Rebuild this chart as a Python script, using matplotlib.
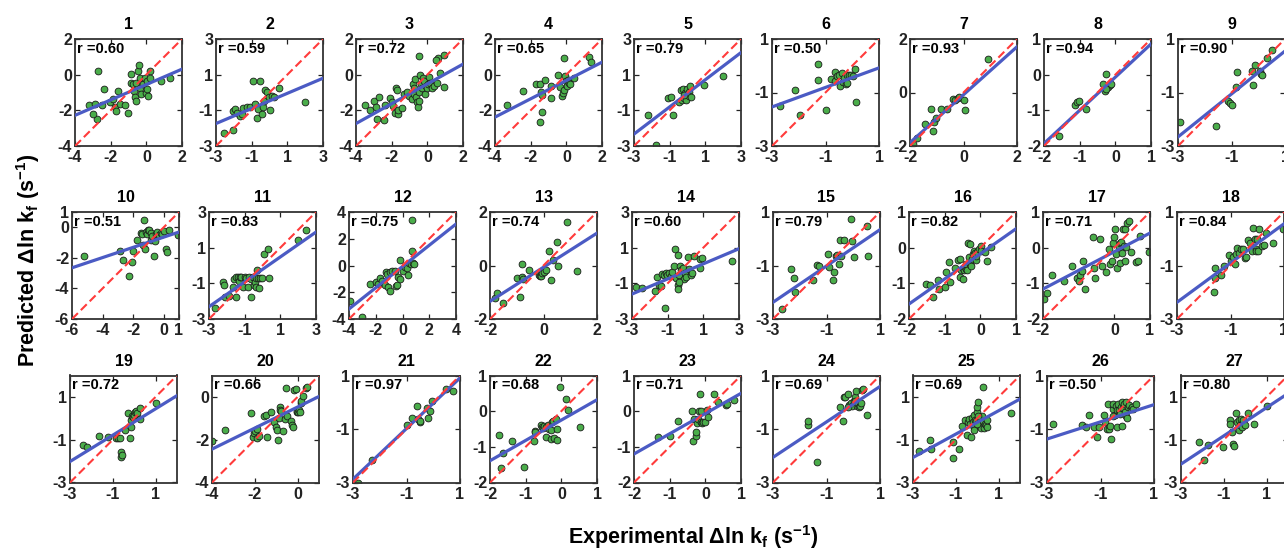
import matplotlib
matplotlib.use("Agg")
import matplotlib.pyplot as plt

plt.rcParams['font.family'] = ['Liberation Sans', 'DejaVu Sans']
plt.rcParams['font.weight'] = 'bold'
plt.rcParams['axes.unicode_minus'] = False
plt.rcParams['mathtext.fontset'] = 'custom'
plt.rcParams['mathtext.rm'] = 'Liberation Sans:bold'
plt.rcParams['mathtext.bf'] = 'Liberation Sans:bold'
plt.rcParams['mathtext.it'] = 'Liberation Sans:bold'
plt.rcParams['mathtext.default'] = 'regular'

# ---------------- data ----------------
panel_ids = list(range(1, 28))
r_values = [0.60, 0.59, 0.72, 0.65, 0.79, 0.50, 0.93, 0.94, 0.90,
            0.51, 0.83, 0.75, 0.74, 0.60, 0.79, 0.82, 0.71, 0.84,
            0.72, 0.66, 0.97, 0.68, 0.71, 0.69, 0.69, 0.50, 0.80]
axis_lo = [-4, -3, -4, -4, -3, -3, -2, -2, -3,
           -6, -3, -4, -2, -3, -3, -2, -2, -3,
           -3, -4, -3, -2, -2, -3, -3, -3, -3]
axis_hi = [2, 3, 2, 2, 3, 1, 2, 1, 1,
           1, 3, 4, 2, 3, 1, 1, 1, 1,
           2, 1, 1, 1, 1, 1, 2, 1, 2]
# fitted (regression) line: predicted value at left and right axis limits
fit_left = [-2.28, -1.74, -2.74, -2.38, -2.33, -1.54, -1.875, -1.93, -2.66,
            -2.65, -2.31, -3.25, -1.34, -1.60, -2.375, -1.58, -1.16, -2.375,
            -2.02, -2.44, -2.875, -1.39, -1.20, -2.06, -1.83, -1.375, -2.14]
fit_right = [0.31, 0.80, 0.59, 0.70, 2.24, -0.08, 1.71, 0.86, 0.55,
             -0.31, 1.875, 3.10, 1.21, 0.94, 0.34, 0.53, 0.41, 0.56,
             1.06, 0.02, 0.91, 0.32, 0.50, 0.59, 0.90, -0.09, 1.16]
tick_values = [[-4, -2, 0, 2], [-3, -1, 1, 3], [-4, -2, 0, 2], [-4, -2, 0, 2],
               [-3, -1, 1, 3], [-3, -1, 1], [-2, 0, 2], [-2, -1, 0, 1], [-3, -1, 1],
               [-6, -4, -2, 0, 1], [-3, -1, 1, 3], [-4, -2, 0, 2, 4], [-2, 0, 2],
               [-3, -1, 1, 3], [-3, -1, 1], [-2, -1, 0, 1], [-2, -1, 0, 1], [-3, -1, 1],
               [-3, -1, 1], [-4, -2, 0], [-3, -1, 1], [-2, -1, 0, 1], [-2, -1, 0, 1],
               [-3, -1, 1], [-3, -1, 1], [-3, -1, 1], [-3, -1, 1]]
xtick_override = {17: [-2, 0, 1]}

exp1 = [-2.70, -2.36, -2.75, -2.98, -3.20, -2.88, -2.51, -2.05, -1.86, -1.58, -1.77, -1.68, -1.49, -1.21, -1.03, -0.84, -0.84, -0.75, -0.71, -0.65, -0.56, -0.56, -0.47, -0.41, -0.38, -0.34, -0.28, -0.19, -0.10, -0.04, 0.03, 0.03, 0.09, 0.18, 0.22, 0.83, 1.30]
pred1 = [0.18, -0.78, -2.50, -2.22, -1.71, -1.66, -1.70, -1.56, -1.38, -0.91, -1.81, -2.03, -1.66, -1.70, -2.13, 0.03, -0.44, -0.53, -0.91, -1.28, -0.44, -1.47, 0.22, 0.56, -0.16, -0.72, -1.10, -0.53, -0.16, -1.00, -0.35, -0.81, -1.19, 0.22, -0.16, -0.38, -0.20]
exp2 = [-2.55, -2.02, -2.06, -1.93, -1.84, -1.65, -1.56, -1.50, -1.27, -1.12, -0.90, -0.52, -0.80, -0.71, -0.62, -0.43, -0.37, -0.30, -0.24, -0.15, -0.05, 0.00, 0.13, 0.23, 0.51, 2.01]
pred2 = [-2.25, -2.12, -1.03, -0.94, -1.13, -1.32, -1.22, -0.85, -0.81, -0.81, 0.65, 0.62, -0.66, -1.41, -0.94, -1.22, -0.81, -0.47, 0.13, 0.05, -0.28, -1.00, -0.19, -0.28, 0.24, -0.56]
exp3 = [-3.49, -3.21, -2.99, -2.87, -2.84, -2.69, -2.42, -2.37, -2.09, -1.99, -1.90, -1.80, -1.75, -1.71, -1.67, -1.62, -1.43, -1.30, -1.15, -1.00, -0.87, -0.81, -0.77, -0.74, -0.68, -0.62, -0.59, -0.55, -0.49, -0.44, -0.44, -0.40, -0.36, -0.30, -0.25, -0.17, -0.12, -0.06, -0.02, 0.02, 0.07, 0.17, 0.26, 0.35, 0.54, 0.58, 0.69, 0.92, 0.95, 0.50]
pred3 = [-1.70, -2.00, -1.47, -1.81, -2.50, -1.28, -2.56, -1.70, -1.32, -1.56, -1.75, -2.13, -0.72, -0.87, -2.22, -2.00, -1.85, -1.10, -0.95, -1.19, -1.38, -0.53, -0.76, -1.10, -0.25, -1.28, -1.56, -1.81, -1.47, -0.95, 1.06, -0.01, -0.50, -0.76, -0.20, -0.35, -1.10, -0.63, -0.76, -0.53, -0.12, -0.44, -0.72, -0.63, -0.44, 0.93, 0.07, -0.68, 1.12, 0.82]
exp4 = [-3.31, -2.44, -1.69, -1.47, -1.43, -1.35, -1.37, -1.47, -1.19, -0.87, -0.87, -0.44, -0.34, -0.25, -0.19, -0.15, -0.12, -0.06, 0.00, 0.03, 0.07, 0.13, 0.18, 0.41, 1.25, 1.38]
pred4 = [-1.68, -0.91, -0.53, -0.53, -0.95, -1.14, -2.10, -2.63, -0.29, -0.61, -1.30, -0.04, -0.67, -1.18, -1.05, -0.86, 0.91, -0.10, -0.38, -0.61, -0.29, -0.48, -0.53, -0.19, 0.99, 0.72]
exp5 = [-2.19, -1.76, -1.07, -0.94, -0.79, -0.45, -0.37, -0.32, -0.26, -0.19, -0.13, -0.07, -0.04, 0.06, 0.11, 0.15, 0.19, 0.94, 1.99, -0.22]
pred5 = [-1.25, -2.96, -0.33, -0.24, -1.25, -0.56, 0.14, -0.43, 0.20, -0.33, -0.05, -0.43, 0.20, 0.05, -0.18, 0.39, -0.24, 0.43, 0.90, -0.14]
exp6 = [-2.71, -2.13, -1.94, -1.29, -1.29, -1.00, -0.81, -0.66, -0.63, -0.56, -0.50, -0.44, -0.38, -0.34, -0.29, -0.25, -0.21, -0.19, -0.13, -0.04, 0.04, 0.09, 0.13]
pred6 = [-1.50, -0.90, -1.83, 0.05, -0.52, -1.67, -0.50, -0.56, -0.23, -0.40, -0.33, -0.74, -0.27, -0.61, -0.46, -0.69, -0.36, -0.65, -0.36, -0.36, -0.40, -0.14, -1.37]
exp7 = [-1.88, -1.73, -1.45, -1.20, -1.14, -1.10, -0.83, -0.62, -0.38, -0.30, -0.22, -0.15, 0.03, 0.07, 0.93, -1.02]
pred7 = [-1.94, -1.69, -1.16, -0.60, -1.44, -1.09, -0.60, -0.63, -0.25, -0.29, -0.19, -0.16, -0.29, -0.66, 1.25, -0.94]
exp8 = [-1.59, -1.12, -1.08, -1.01, -0.81, -0.34, -0.30, -0.25, -0.21, -0.15, -0.11, -0.27]
pred8 = [-1.72, -0.85, -0.78, -0.73, -0.95, -0.25, -0.45, 0.03, -0.34, -0.28, -0.25, -0.41]
exp9 = [-2.91, -1.59, -1.13, -1.06, -1.00, -0.84, -0.79, -0.25, -0.21, -0.13, 0.06, 0.09, 0.13, 0.31, 0.50]
pred9 = [-2.09, -2.25, -1.31, -1.41, -1.46, -0.81, -0.25, -0.21, -0.71, 0.04, -0.21, -0.31, -0.34, 0.29, 0.59]
exp10 = [-5.23, -2.83, -2.65, -2.28, -2.06, -2.00, -1.78, -1.47, -1.40, -1.34, -1.29, -1.25, -1.19, -1.12, -1.03, -0.97, -0.86, -0.81, -0.75, -0.64, -0.60, -0.53, -0.42, -0.31, -0.20, -0.09, 0.02, 0.13, 0.24, 0.35, 0.94]
pred10 = [-1.91, -1.56, -2.13, -3.16, -2.28, -1.52, -0.86, -0.38, -0.47, -1.19, 0.45, -1.41, -0.31, -0.47, -0.20, -0.20, -0.38, -0.82, -0.60, -1.91, -0.90, -0.47, -0.31, -0.53, -0.38, -0.47, -0.25, -1.41, -1.63, -0.20, -0.53]
exp11 = [-2.68, -2.21, -2.17, -2.12, -1.87, -1.65, -1.61, -1.50, -1.46, -1.37, -1.31, -1.27, -1.18, -1.12, -0.99, -0.90, -0.80, -0.75, -0.67, -0.62, -0.52, -0.49, -0.43, -0.37, -0.34, -0.30, -0.24, -0.19, -0.15, -0.05, 0.08, 0.32, 0.38, 2.01, 2.44]
pred11 = [-2.38, -0.94, -1.07, -1.78, -1.69, -1.18, -0.75, -1.75, -0.62, -0.62, -0.85, -0.66, -0.66, -1.22, -0.62, -0.70, -1.22, -0.66, -1.75, -0.75, -0.66, -1.07, -0.94, -0.70, -1.22, -0.25, -0.70, -1.26, -0.70, -0.70, 0.62, 0.94, -0.70, 1.41, 1.97]
exp12 = [-3.95, -3.00, -2.45, -2.00, -1.83, -1.65, -1.50, -1.33, -1.25, -1.15, -1.08, -0.95, -0.90, -0.75, -0.58, -0.50, -0.40, -0.33, -0.20, -0.15, 0.00, 0.18, 0.35, 0.43, 0.50, 0.60, 0.68, 0.68, 0.75, 0.85]
pred12 = [-2.63, -3.88, -1.38, -1.25, -1.38, -0.93, -1.13, -1.43, -0.50, -0.63, -1.58, -1.88, -0.50, -0.38, -0.38, -1.50, -1.43, -0.88, 0.43, -1.00, -0.38, -0.08, -0.18, -0.70, 0.18, 0.13, 1.08, 3.38, 0.18, 0.13]
exp13 = [-1.81, -1.72, -1.50, -0.99, -0.87, -0.81, -0.81, -0.77, -0.55, -0.18, -0.14, -0.11, -0.05, 0.01, 0.08, 0.20, 0.29, 0.36, 0.49, 0.54, 0.89, 1.25]
pred13 = [-1.21, -1.04, -1.41, -0.46, -1.16, 0.04, -0.44, -0.50, -0.16, -0.34, -0.41, -0.38, -0.29, -0.25, -0.16, 0.54, -0.54, 0.21, 0.88, 0.00, 1.63, -0.21]
exp14 = [-2.75, -2.43, -1.73, -1.62, -1.48, -1.35, -1.30, -1.20, -1.16, -1.11, -1.01, -0.92, -0.82, -0.73, -0.63, -0.59, -0.54, -0.44, -0.41, -0.41, -0.35, -0.29, -0.25, -0.16, -0.06, -0.03, 0.03, 0.13, 0.22, 0.31, 0.35, 0.50, 0.79, 0.84, 0.92, 2.59, -0.35]
pred14 = [-1.22, -1.28, -1.41, -0.66, -1.09, -1.17, -0.47, -0.53, -2.40, -0.41, -0.56, -0.41, -0.60, -0.38, 0.00, 0.94, -0.71, 0.60, -1.09, -1.32, -0.56, -0.04, -0.23, -0.15, -0.75, -0.41, -0.66, 0.47, -0.19, -0.53, -0.41, 0.52, 0.37, -0.15, 0.41, 0.28, -0.94]
exp15 = [-2.66, -2.34, -2.22, -2.19, -1.52, -1.36, -1.27, -0.96, -0.89, -0.77, -0.73, -0.64, -0.60, -0.55, -0.51, -0.45, -0.35, -0.07, -0.05, 0.03, 0.50, 0.56]
pred15 = [-2.63, -1.13, -1.48, -1.98, -1.56, -0.98, -1.03, -0.56, -1.06, -1.56, -1.23, -0.65, -0.60, -0.94, -0.03, -0.65, -0.03, 0.75, -0.10, -0.69, 0.48, -0.63]
exp16 = [-1.51, -1.40, -1.33, -1.18, -1.16, -1.00, -0.95, -0.88, -0.84, -0.72, -0.62, -0.58, -0.56, -0.53, -0.50, -0.48, -0.46, -0.43, -0.41, -0.39, -0.37, -0.34, -0.31, -0.29, -0.28, -0.25, -0.22, -0.20, -0.18, -0.15, -0.13, -0.11, -0.09, -0.03, 0.01, 0.03, 0.13, 0.19, 0.29]
pred16 = [-1.03, -1.06, -1.39, -0.90, -1.16, -1.11, -0.69, -0.41, -0.97, -0.57, -0.34, -0.31, -0.81, -0.62, -0.87, -0.57, -0.62, -0.53, -0.59, -0.45, -0.64, 0.13, -0.25, 0.11, -0.45, -0.50, -0.31, -0.19, -0.08, -0.15, -0.34, -0.22, -0.12, -0.03, 0.06, -0.08, -0.12, -0.38, 0.02]
exp17 = [-1.98, -1.89, -1.75, -1.42, -1.18, -1.06, -1.00, -0.95, -0.90, -0.88, -0.81, -0.59, -0.58, -0.53, -0.41, -0.34, -0.22, -0.15, -0.11, -0.06, -0.03, -0.01, 0.03, 0.06, 0.08, 0.12, 0.16, 0.17, 0.19, 0.22, 0.25, 0.27, 0.29, 0.31, 0.34, 0.36, 0.41, 0.46, 0.60, 0.66, 0.72, 0.97]
pred17 = [-1.44, -1.28, -0.78, -0.94, -0.50, -0.85, -0.94, -0.78, -0.66, -0.38, -1.16, 0.30, -0.57, -0.85, 0.25, -0.50, -0.69, -0.03, -0.47, -0.36, 0.13, 0.30, 0.53, -0.17, -0.57, 0.03, -0.43, 0.13, 0.16, -0.15, 0.53, 0.06, 0.53, -0.38, 0.03, 0.69, 0.75, -0.12, -0.41, -0.38, 0.32, -0.12]
exp18 = [-1.63, -1.59, -1.59, -1.34, -1.25, -1.05, -1.00, -0.90, -0.84, -0.80, -0.75, -0.68, -0.59, -0.53, -0.46, -0.43, -0.34, -0.28, -0.21, -0.15, -0.09, -0.05, -0.03, 0.00, 0.04, 0.08, 0.16, 0.25, 0.33, 0.60, 0.95]
pred18 = [-2.00, -1.48, -1.10, -1.35, -1.03, -0.60, -0.85, -0.69, -0.94, -0.56, -0.35, -0.53, -0.40, -0.38, -0.73, -0.69, -0.03, -0.15, -0.44, 0.40, 0.00, -0.40, -0.44, 0.00, -0.44, 0.35, -0.28, -0.25, 0.23, -0.15, 0.35]
exp19 = [-2.41, -2.19, -1.63, -1.21, -0.83, -0.75, -0.67, -0.64, -0.62, -0.59, -0.44, -0.28, -0.20, -0.17, -0.13, -0.08, -0.05, -0.02, 0.03, 0.07, 0.14, 0.26, 0.29, 1.04]
pred19 = [-1.23, -1.33, -0.81, -0.86, -0.92, -0.92, -0.92, -1.59, -1.80, -1.70, -0.55, 0.23, -0.92, -0.39, -0.08, 0.13, 0.05, 0.17, 0.28, 0.33, 0.23, -0.03, 0.48, 0.70]
exp20 = [-4.00, -3.38, -2.17, -2.08, -2.02, -1.97, -1.92, -1.89, -1.81, -1.55, -1.50, -1.45, -1.23, -1.11, -1.03, -0.98, -0.92, -0.88, -0.83, -0.80, -0.77, -0.67, -0.61, -0.56, -0.48, -0.30, -0.25, -0.20, -0.17, -0.09, -0.05, -0.02, 0.02, 0.06, 0.11, 0.14, 0.17, 0.27, 0.38, 0.45]
pred20 = [-2.08, -1.55, -0.77, -1.86, -1.70, -1.58, -1.92, -1.50, -1.81, -0.88, -0.83, -1.86, -0.72, -1.19, -1.39, -1.55, -2.02, -0.98, -0.45, -0.61, -0.67, -1.61, -1.03, 0.42, -0.88, -1.14, -1.30, -1.39, 0.33, 0.38, -0.72, -0.67, -0.72, -0.61, -0.72, -0.30, -0.20, 0.06, 0.42, 0.45]
exp21 = [-2.81, -2.28, -0.98, -0.78, -0.60, -0.56, -0.50, -0.48, -0.25, -0.19, -0.13, -0.03, 0.48, 0.73]
pred21 = [-3.00, -2.16, -0.84, -0.59, -0.13, -0.63, -0.75, -0.71, -0.21, -0.59, -0.31, 0.06, 0.50, 0.41]
exp22 = [-1.76, -1.70, -1.64, -1.39, -1.06, -0.77, -0.75, -0.73, -0.57, -0.54, -0.51, -0.49, -0.44, -0.42, -0.38, -0.35, -0.30, -0.28, -0.25, -0.23, -0.21, -0.16, -0.13, -0.11, -0.04, 0.12, 0.19, 0.53]
pred22 = [-0.66, -1.60, -1.18, -0.85, -1.56, -0.83, -0.57, -0.59, -0.38, -0.43, -0.47, -0.41, -0.72, -0.45, -0.38, -0.50, -0.53, -0.78, -0.31, -0.27, -0.75, -0.22, -0.50, -0.81, 0.69, 0.34, 0.03, -0.45]
exp23 = [-1.34, -0.98, -0.77, -0.37, -0.34, -0.32, -0.27, -0.25, -0.23, -0.21, -0.18, -0.15, -0.13, -0.11, -0.08, -0.06, -0.02, 0.04, 0.08, 0.23, 0.36, 0.58, 0.62, 0.79]
pred23 = [-0.72, -0.69, -0.27, 0.00, -0.85, -0.22, -0.69, -0.59, -0.34, -0.22, 0.00, 0.48, 0.00, -0.31, -0.34, -0.31, -0.31, 0.03, -0.17, 0.47, 0.25, 0.18, 0.20, 0.32]
exp24 = [-1.71, -1.69, -1.36, -0.51, -0.39, -0.35, -0.30, -0.20, -0.17, -0.10, -0.05, 0.03, 0.05, 0.08, 0.12, 0.15, 0.18, 0.21, 0.24, 0.28, 0.31, 0.37, 0.50, -0.20]
pred24 = [-0.84, -0.71, -2.25, -0.19, -0.71, 0.19, 0.21, 0.29, -0.09, -0.04, -0.13, 0.04, 0.19, 0.06, 0.41, -0.13, -0.06, -0.16, -0.13, -0.04, 0.46, 0.50, -0.46, -0.16]
exp25 = [-2.74, -2.19, -2.16, -1.14, -1.11, -0.87, -0.72, -0.56, -0.48, -0.41, -0.36, -0.33, -0.30, -0.25, -0.20, -0.17, -0.14, -0.10, -0.05, -0.02, 0.01, 0.06, 0.11, 0.14, 0.17, 0.21, 0.26, 0.29, 0.32, 0.37, 0.42, 0.45, 0.48, -0.14, 1.57, 0.06, -0.02]
pred25 = [-1.55, -1.00, -1.44, -1.13, -1.86, -1.44, -0.34, -0.09, -0.77, -0.19, -0.03, -0.25, -0.88, 0.02, -0.19, 0.17, -0.41, -0.06, -0.14, 0.28, 0.53, 0.75, -0.09, -0.30, -0.45, 0.13, 1.47, -0.14, -0.45, -0.25, -0.30, -0.41, -0.09, -0.53, 0.25, 0.09, -0.25]
exp26 = [-2.78, -1.71, -1.55, -1.43, -1.25, -1.13, -1.05, -0.88, -0.84, -0.75, -0.71, -0.68, -0.63, -0.59, -0.55, -0.53, -0.46, -0.43, -0.40, -0.38, -0.34, -0.30, -0.28, -0.25, -0.21, -0.18, -0.15, -0.13, -0.09, -0.05, -0.03, 0.00, 0.04, 0.08, 0.13, 0.16, 0.23, 0.33, -0.53]
pred26 = [-0.80, -0.84, -0.93, -0.46, -0.93, -1.30, -0.93, -0.46, -0.75, -1.00, -0.05, -1.00, -0.88, -1.38, -0.25, -0.05, -0.46, -0.15, -0.28, -0.93, -0.05, -0.28, -0.43, -0.18, -0.88, 0.00, -0.21, -0.05, -0.38, 0.00, -0.50, -0.59, -0.18, -0.09, -0.25, -0.18, -0.25, -0.05, -0.53]
exp27 = [-2.18, -1.94, -1.76, -1.04, -0.73, -0.70, -0.62, -0.55, -0.52, -0.42, -0.36, -0.31, -0.27, -0.24, -0.20, -0.16, -0.11, -0.08, 0.00, 0.15, 0.39, 1.01]
pred27 = [-1.13, -1.94, -1.23, -1.34, -0.09, -0.25, -0.66, -1.19, -1.28, 0.25, -0.19, -0.53, -0.09, -0.30, -0.03, -0.41, -0.19, -0.09, -0.30, 0.25, -0.25, 0.59]

exp_values = [exp1, exp2, exp3, exp4, exp5, exp6, exp7, exp8, exp9,
              exp10, exp11, exp12, exp13, exp14, exp15, exp16, exp17, exp18,
              exp19, exp20, exp21, exp22, exp23, exp24, exp25, exp26, exp27]
pred_values = [pred1, pred2, pred3, pred4, pred5, pred6, pred7, pred8, pred9,
               pred10, pred11, pred12, pred13, pred14, pred15, pred16, pred17, pred18,
               pred19, pred20, pred21, pred22, pred23, pred24, pred25, pred26, pred27]

# ---------------- layout (pixels) ----------------
W, H = 1284, 553
row_lefts = [[75, 216, 356, 495, 634, 772, 910, 1044, 1178],
             [72, 209, 349, 490, 632, 773, 909, 1043, 1177],
             [70, 212, 353, 490, 634, 773, 913, 1047, 1181]]
row_tops = [39, 212, 375.5]
PW, PH = 107, 107

fig = plt.figure(figsize=(W / 100, H / 100), dpi=100)

GREEN = '#4aad4a'
BLUE = '#4b5bc4'
RED = '#ff3b3b'

for k in range(27):
    row, col = divmod(k, 9)
    left = row_lefts[row][col]
    top = row_tops[row]
    ax = fig.add_axes([left / W, 1 - (top + PH) / H, PW / W, PH / H])
    lo, hi = axis_lo[k], axis_hi[k]
    ax.scatter(exp_values[k], pred_values[k], s=24, c=GREEN,
               edgecolors='#1a1a1a', linewidths=0.6, zorder=2)
    ax.plot([lo, hi], [fit_left[k], fit_right[k]], color=BLUE, lw=2.3, zorder=3)
    ax.plot([lo, hi], [lo, hi], color=RED, lw=1.5, ls=(0, (4, 2)), zorder=4)
    ax.set_xlim(lo, hi)
    ax.set_ylim(lo, hi)
    ticks = tick_values[k]
    ax.set_xticks(xtick_override.get(panel_ids[k], ticks))
    ax.set_yticks(ticks)
    ax.tick_params(direction='in', length=3.5, width=0.9, top=True, right=True,
                   labelsize=11.5, colors='#222222')
    ax.tick_params(axis='x', pad=3)
    ax.tick_params(axis='y', pad=2)
    for lab in ax.get_xticklabels() + ax.get_yticklabels():
        lab.set_fontweight('bold')
    for sp in ax.spines.values():
        sp.set_linewidth(1.3)
        sp.set_color('#333333')
    ax.set_title(str(panel_ids[k]), fontsize=11.5, fontweight='bold', pad=7)
    ax.text(0.015, 0.975, 'r =%.2f' % r_values[k], transform=ax.transAxes,
            ha='left', va='top', fontsize=10.5, fontweight='bold', zorder=5)

fig.text(693 / W, 1 - 537 / H, 'Experimental \u0394ln k$_{f}$ (s$^{-1}$)',
         ha='center', va='center', fontsize=15.5, fontweight='bold')
fig.text(28 / W, 1 - 260 / H, 'Predicted \u0394ln k$_{f}$ (s$^{-1}$)',
         ha='center', va='center', fontsize=15.5, fontweight='bold', rotation=90)

fig.savefig('out.png', dpi=100)
